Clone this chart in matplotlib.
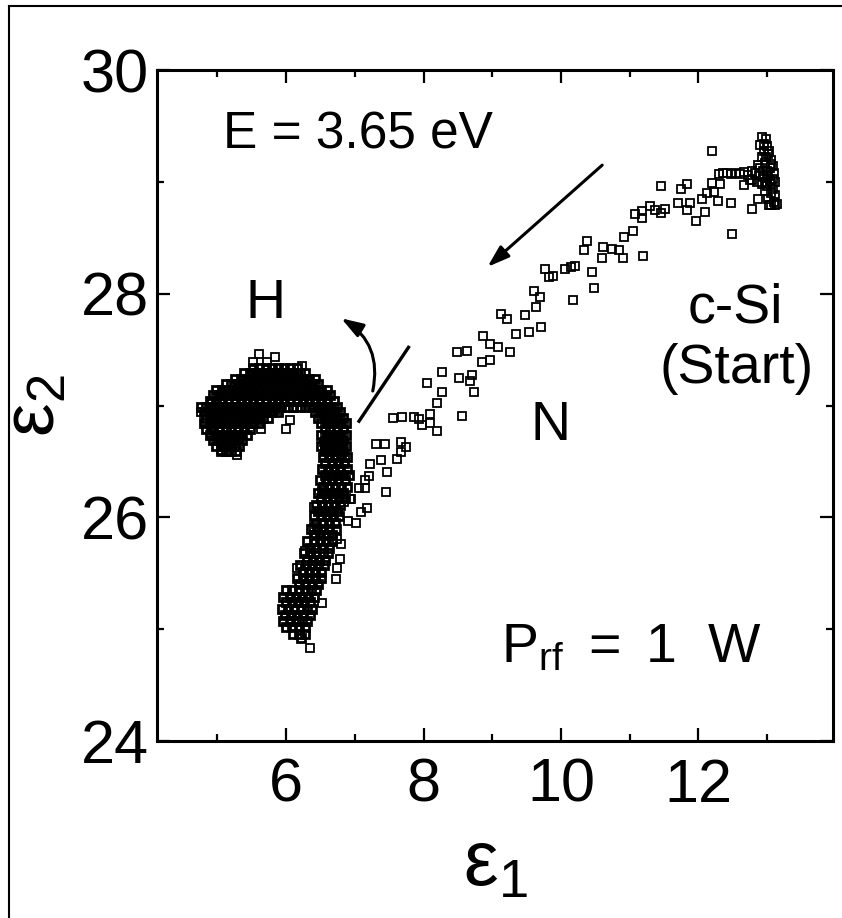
import matplotlib
matplotlib.use("Agg")
import matplotlib.pyplot as plt
from matplotlib.lines import Line2D
from matplotlib.ticker import MultipleLocator

plt.rcParams['font.family'] = ['Liberation Sans', 'DejaVu Sans']
plt.rcParams['mathtext.fontset'] = 'custom'
plt.rcParams['mathtext.rm'] = 'Liberation Sans'
plt.rcParams['mathtext.it'] = 'Liberation Sans:italic'

# --- dados (eps1, eps2) ---
# regiao densa "H" (gancho + haste), por linhas: (eps2, [eps1 ...])
hook_rows = [
    (27.34, [5.52, 5.61, 5.70, 5.79, 5.88, 5.97, 6.06, 6.15]),
    (27.29, [5.38, 5.48, 5.56, 5.66, 5.74, 5.84, 5.92, 6.02, 6.10, 6.20, 6.28]),
    (27.24, [5.25, 5.34, 5.43, 5.52, 5.61, 5.70, 5.79, 5.88, 5.97, 6.06, 6.15, 6.24, 6.33, 6.42]),
    (27.19, [5.12, 5.20, 5.30, 5.38, 5.48, 5.56, 5.66, 5.74, 5.84, 5.92, 6.02, 6.10, 6.20, 6.28, 6.38, 6.46]),
    (27.14, [4.98, 5.07, 5.16, 5.25, 5.34, 5.43, 5.52, 5.61, 5.70, 5.79, 5.88, 5.97, 6.06, 6.15, 6.24, 6.33, 6.42, 6.51, 6.60]),
    (27.09, [4.94, 5.02, 5.12, 5.20, 5.30, 5.38, 5.48, 5.56, 5.66, 5.74, 5.84, 5.92, 6.02, 6.10, 6.20, 6.28, 6.38, 6.46, 6.56, 6.64]),
    (27.04, [4.89, 4.98, 5.07, 5.16, 5.25, 5.34, 5.43, 5.52, 5.61, 5.70, 5.79, 5.88, 5.97, 6.06, 6.15, 6.24, 6.33, 6.42, 6.51, 6.60, 6.69]),
    (26.99, [4.76, 4.84, 4.94, 5.02, 5.12, 5.20, 5.30, 5.38, 5.48, 5.56, 5.66, 5.74, 5.84, 5.92, 6.02, 6.10, 6.20, 6.28, 6.38, 6.46, 6.56, 6.64, 6.74]),
    (26.94, [4.80, 4.89, 4.98, 5.07, 5.16, 5.25, 5.34, 5.43, 5.52, 5.61, 5.70, 5.79, 5.88, 6.42, 6.51, 6.60, 6.69, 6.78]),
    (26.89, [4.84, 4.94, 5.02, 5.12, 5.20, 5.30, 5.38, 5.48, 5.56, 5.66, 5.74, 6.46, 6.56, 6.64, 6.74, 6.82]),
    (26.84, [4.80, 4.89, 4.98, 5.07, 5.16, 5.25, 5.34, 5.43, 5.52, 5.61, 6.51, 6.60, 6.69, 6.78, 6.87]),
    (26.79, [4.84, 4.94, 5.02, 5.12, 5.20, 5.30, 5.38, 5.48, 6.56, 6.64, 6.74, 6.82]),
    (26.74, [4.89, 4.98, 5.07, 5.16, 5.25, 5.34, 5.43, 6.51, 6.60, 6.69, 6.78, 6.87]),
    (26.69, [4.94, 5.02, 5.12, 5.20, 5.30, 5.36, 6.56, 6.64, 6.74, 6.82]),
    (26.64, [4.98, 5.07, 5.16, 5.25, 5.32, 6.51, 6.60, 6.69, 6.78, 6.87]),
    (26.59, [5.05, 5.12, 5.20, 5.27, 6.56, 6.64, 6.74, 6.82]),
    (26.54, [6.53, 6.62, 6.71, 6.80, 6.88]),
    (26.49, [6.57, 6.66, 6.75, 6.84]),
    (26.43, [6.52, 6.61, 6.70, 6.79, 6.88]),
    (26.38, [6.56, 6.65, 6.74, 6.83, 6.92]),
    (26.33, [6.49, 6.58, 6.67, 6.76, 6.85]),
    (26.27, [6.53, 6.62, 6.71, 6.80, 6.89]),
    (26.22, [6.46, 6.55, 6.64, 6.73, 6.82]),
    (26.17, [6.50, 6.59, 6.68, 6.77, 6.86]),
    (26.11, [6.43, 6.52, 6.61, 6.70, 6.79]),
    (26.06, [6.47, 6.56, 6.65, 6.74]),
    (26.01, [6.41, 6.50, 6.59, 6.68, 6.77]),
    (25.95, [6.44, 6.53, 6.62, 6.71]),
    (25.90, [6.36, 6.45, 6.54, 6.63, 6.72]),
    (25.84, [6.40, 6.49, 6.58, 6.67]),
    (25.79, [6.31, 6.40, 6.49, 6.58, 6.67]),
    (25.73, [6.35, 6.44, 6.53, 6.62]),
    (25.68, [6.26, 6.35, 6.44, 6.53, 6.61]),
    (25.62, [6.30, 6.39, 6.48, 6.57]),
    (25.57, [6.20, 6.29, 6.38, 6.47, 6.55]),
    (25.51, [6.24, 6.33, 6.42, 6.51]),
    (25.46, [6.15, 6.24, 6.33, 6.42, 6.50]),
    (25.40, [6.19, 6.28, 6.37, 6.46]),
    (25.35, [6.00, 6.09, 6.18, 6.27, 6.36, 6.44]),
    (25.29, [5.96, 6.05, 6.14, 6.23, 6.32, 6.41]),
    (25.24, [5.99, 6.08, 6.17, 6.26, 6.35]),
    (25.18, [5.94, 6.03, 6.12, 6.21, 6.30, 6.38]),
    (25.13, [5.98, 6.07, 6.16, 6.25, 6.34]),
    (25.07, [5.96, 6.05, 6.14, 6.23, 6.31]),
    (25.02, [6.00, 6.09, 6.18, 6.27]),
    (24.96, [6.10, 6.19, 6.27]),
    (24.92, [6.22]),
]

# pontos soltos na borda do "H"
hook_edge = [
    (5.60, 27.46), (5.83, 27.43), (5.51, 27.39), (5.72, 27.39), (6.23, 27.35),
    (5.08, 27.14), (4.92, 27.03), (4.76, 26.94), (4.83, 26.94), (4.91, 26.75),
    (5.05, 26.60), (5.29, 26.56), (5.63, 26.79), (5.60, 26.88), (6.00, 26.79),
    (6.05, 26.87), (6.10, 26.98), (6.23, 26.99), (5.88, 26.96),
    (6.40, 26.09), (6.40, 25.91), (6.43, 25.84), (6.28, 25.70), (6.40, 25.73),
    (6.16, 25.55), (6.43, 25.46), (6.74, 25.81), (6.80, 25.76), (6.79, 25.63),
    (6.74, 25.55), (6.72, 25.45), (6.52, 25.23), (6.35, 24.83), (6.55, 26.27),
    (6.52, 26.24), (6.84, 26.14), (6.93, 26.16), (6.86, 26.54), (6.83, 26.67),
    (6.55, 26.67), (6.57, 26.63), (6.55, 26.54),
]

# trajetoria esparsa "N" (c-Si -> H)
trail = [
    (6.94, 26.16), (7.09, 26.05), (7.18, 26.08), (6.90, 25.97), (7.01, 25.95),
    (7.06, 26.26), (7.15, 26.26), (7.45, 26.23), (7.15, 26.33), (7.20, 26.37),
    (7.46, 26.41), (7.22, 26.48), (7.38, 26.51), (7.62, 26.52), (7.67, 26.58),
    (7.75, 26.63), (7.31, 26.66), (7.44, 26.66), (7.67, 26.67), (7.56, 26.89),
    (7.69, 26.90), (7.86, 26.90), (7.93, 26.88), (8.09, 26.92), (7.98, 26.83),
    (8.09, 26.84), (8.19, 26.77), (8.56, 26.91), (8.19, 27.02), (8.05, 27.20),
    (8.27, 27.12), (8.73, 27.12), (8.27, 27.30), (8.51, 27.25), (8.71, 27.27),
    (8.68, 27.22), (8.49, 27.48), (8.63, 27.49), (8.85, 27.39), (8.96, 27.41),
    (8.87, 27.62), (8.96, 27.55), (9.09, 27.52), (9.26, 27.48), (9.35, 27.64),
    (9.53, 27.66), (9.71, 27.70), (9.13, 27.82), (9.22, 27.77), (9.48, 27.81),
    (9.60, 28.02), (9.70, 27.97), (9.64, 27.88), (10.18, 27.94), (10.48, 28.05),
    (9.77, 28.22), (9.82, 28.15), (9.88, 28.16), (10.06, 28.22), (10.14, 28.24),
    (10.21, 28.25), (10.45, 28.19), (10.38, 28.47), (10.33, 28.39), (10.61, 28.42),
    (10.74, 28.40), (10.84, 28.39), (10.90, 28.32), (10.59, 28.32), (11.20, 28.34),
    (10.91, 28.51), (11.05, 28.56), (11.18, 28.68), (11.08, 28.71), (11.18, 28.74),
    (11.29, 28.78), (11.37, 28.75), (11.45, 28.72), (11.52, 28.76), (11.45, 28.96),
    (11.74, 28.94), (11.84, 28.98), (12.20, 28.99), (12.32, 28.98), (12.12, 28.90),
    (12.22, 28.91), (12.05, 28.85), (11.88, 28.81), (11.71, 28.81), (11.83, 28.75),
    (12.10, 28.73), (11.97, 28.65), (12.29, 28.83), (12.48, 28.81), (12.49, 28.53),
    (12.20, 29.28),
]

# aglomerado inicial (c-Si)
start_cluster = [
    (12.93, 29.40), (12.98, 29.38), (12.90, 29.33), (13.00, 29.32), (12.95, 29.28),
    (13.02, 29.25), (12.92, 29.22), (13.05, 29.20), (12.97, 29.17), (13.08, 29.14),
    (12.90, 29.12), (13.00, 29.10), (13.10, 29.08), (12.88, 29.06), (12.95, 29.04),
    (13.04, 29.02), (13.12, 29.00), (12.92, 28.98), (13.00, 28.96), (13.08, 28.94),
    (12.97, 28.92), (13.05, 28.90), (13.12, 28.88), (13.02, 28.85), (13.10, 28.82),
    (13.15, 28.80), (13.06, 28.79), (12.85, 29.00), (12.82, 29.08), (12.86, 29.15),
    (12.96, 29.34), (13.03, 29.28), (12.99, 29.22), (13.06, 29.16), (13.02, 29.06),
    (13.06, 28.98), (12.98, 29.00), (13.09, 29.03), (12.94, 29.10), (13.04, 29.12),
    (12.30, 29.07), (12.36, 29.08), (12.42, 29.08), (12.48, 29.07), (12.54, 29.08),
    (12.60, 29.07), (12.66, 29.09), (12.72, 29.06), (12.78, 29.10), (12.75, 29.02),
    (12.66, 28.97), (12.78, 29.02), (12.78, 28.76), (12.87, 28.85), (13.03, 28.79),
    (13.12, 28.79),
]

x_ticks = [6, 8, 10, 12]
y_ticks = [24, 26, 28, 30]


def separar(pontos):
    return [p[0] for p in pontos], [p[1] for p in pontos]


fig = plt.figure(figsize=(8.42, 9.18), dpi=100)
ax = fig.add_axes([0.1865, 0.1928, 0.8029, 0.7309])

estilo = dict(ls='none', marker='s', ms=5.4, mew=1.3, mfc='none', mec='black')

hx, hy = [], []
for y, xs in hook_rows:
    for x in xs:
        hx.append(x)
        hy.append(y)
# regiao densa: bordas mais grossas para fechar o preto como no original
ax.plot(hx, hy, **dict(estilo, mew=2.0))
for grupo in (hook_edge, trail, start_cluster):
    gx, gy = separar(grupo)
    ax.plot(gx, gy, **estilo)

ax.set_xlim(4.12, 13.96)
ax.set_ylim(24, 30)
ax.set_xticks(x_ticks)
ax.set_yticks(y_ticks)
ax.xaxis.set_minor_locator(MultipleLocator(1))
ax.yaxis.set_minor_locator(MultipleLocator(1))
ax.tick_params(which='both', direction='in', top=True, right=True, width=1.6)
ax.tick_params(which='major', length=9.5)
ax.tick_params(which='minor', length=5)
ax.tick_params(axis='x', pad=12, labelsize=44)
ax.tick_params(axis='y', pad=6, labelsize=44)
for s in ax.spines.values():
    s.set_linewidth(2.2)

ax.set_xlabel(r'$\mathregular{ε_1}$', fontsize=56, labelpad=10)
ax.set_ylabel(r'$\mathregular{ε_2}$', fontsize=54, labelpad=8)

# textos
ax.text(5.075, 29.30, 'E = 3.65 eV', fontsize=37)
ax.text(5.41, 27.78, 'H', fontsize=40)
ax.text(12.535, 27.74, 'c-Si', fontsize=40, ha='center')
ax.text(12.56, 27.20, '(Start)', fontsize=40, ha='center')
ax.text(9.55, 26.69, 'N', fontsize=40)
ax.text(9.12, 24.70, r'$\mathregular{P_{rf}}$ $=$ 1  W', fontsize=40)

# setas
seta = dict(arrowstyle='-|>,head_length=0.6,head_width=0.2', lw=2.2,
            color='black', mutation_scale=22, shrinkA=0, shrinkB=0)
ax.annotate('', xy=(8.93, 28.24), xytext=(10.60, 29.15), arrowprops=seta)
ax.annotate('', xy=(6.80, 27.78), xytext=(7.26, 27.13),
            arrowprops=dict(seta, connectionstyle='arc3,rad=0.35'))
ax.plot([7.78, 7.06], [27.52, 26.86], color='black', lw=2.4)

# moldura da figura
fig.add_artist(Line2D([0.0107, 0.0107], [0, 0.9935], transform=fig.transFigure, color='black', lw=1.5))
fig.add_artist(Line2D([0.0107, 1], [0.9935, 0.9935], transform=fig.transFigure, color='black', lw=1.5))

fig.savefig('out.png', dpi=100)
